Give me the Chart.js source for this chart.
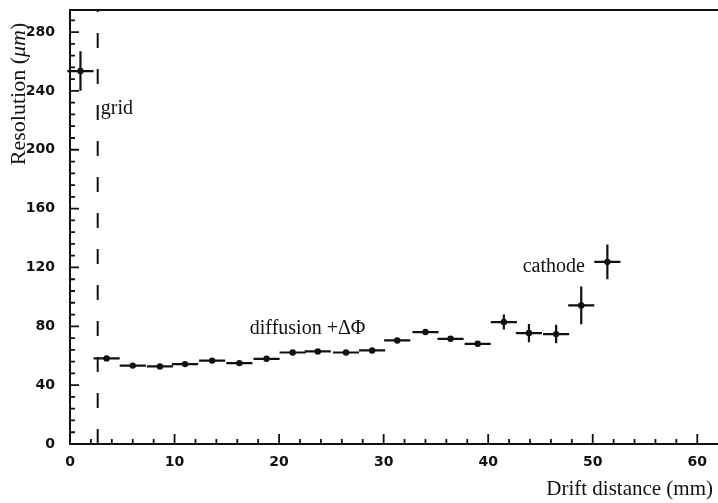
<!DOCTYPE html>
<html>
<head>
<meta charset="utf-8">
<script src="https://cdn.jsdelivr.net/npm/chart.js@4/dist/chart.umd.min.js"></script>
<style>
  html, body { margin: 0; padding: 0; background: #fff; }
  canvas { display: block; }
</style>
</head>
<body>
<canvas id="chart" width="718" height="503"></canvas>
<script>
// Drift distance bin centres (mm) and their half widths
const driftMm = [1.0, 3.5, 6.0, 8.6, 11.0, 13.6, 16.2, 18.8, 21.3, 23.7, 26.4,
                 28.9, 31.3, 34.0, 36.4, 39.0, 41.5, 43.9, 46.5, 48.9, 51.4];
const driftErr = [1.25, 1.25, 1.25, 1.25, 1.25, 1.25, 1.25, 1.25, 1.25, 1.25, 1.25,
                  1.25, 1.25, 1.25, 1.25, 1.25, 1.25, 1.25, 1.25, 1.25, 1.25];

// Spatial resolution (µm) with its uncertainty
const resolutionUm = [253.5, 58.2, 53.3, 52.7, 54.3, 56.7, 55.0, 57.9, 62.2, 62.9, 62.2,
                      63.6, 70.4, 76.1, 71.5, 68.1, 82.9, 75.4, 74.7, 94.2, 123.8];
const resolutionErr = [13.4, 1.5, 1.5, 1.5, 1.5, 1.5, 1.5, 1.5, 1.5, 1.5, 1.5,
                       1.5, 1.5, 1.5, 1.5, 1.5, 5.1, 6.2, 6.3, 12.8, 11.8];

// Axis labels
const xTickValues = [0, 10, 20, 30, 40, 50, 60];
const yTickValues = [0, 40, 80, 120, 160, 200, 240, 280];
const xMinorStep = 2;
const yMinorStep = 8;

// Position of the grid wire (mm)
const gridWireMm = 2.65;

// Annotations placed in data coordinates: [text, x (mm), y (µm)]
const notes = [
  ['grid', 2.95, 224],
  ['diffusion +\u0394\u03A6', 17.2, 75],
  ['cathode', 43.3, 117]
];

const INK = '#111';
const SERIF = '"Liberation Serif", "DejaVu Serif", serif';

const points = driftMm.map((x, i) => ({ x, y: resolutionUm[i] }));

const errorBars = {
  id: 'errorBars',
  afterDatasetsDraw(chart) {
    const { ctx, scales: { x, y } } = chart;
    ctx.save();
    ctx.strokeStyle = INK;
    ctx.lineWidth = 2.2;
    ctx.lineCap = 'butt';
    driftMm.forEach((d, i) => {
      const cy = y.getPixelForValue(resolutionUm[i]);
      const cx = x.getPixelForValue(d);
      ctx.beginPath();
      ctx.moveTo(x.getPixelForValue(d - driftErr[i]), cy);
      ctx.lineTo(x.getPixelForValue(d + driftErr[i]), cy);
      ctx.moveTo(cx, y.getPixelForValue(resolutionUm[i] - resolutionErr[i]));
      ctx.lineTo(cx, y.getPixelForValue(resolutionUm[i] + resolutionErr[i]));
      ctx.stroke();
    });
    ctx.restore();
  }
};

const frame = {
  id: 'frame',
  beforeDatasetsDraw(chart) {
    const { ctx, chartArea: a, scales: { x, y } } = chart;
    ctx.save();
    ctx.strokeStyle = INK;
    // top edge of the frame and the axis line, both running off the right edge
    ctx.lineWidth = 2;
    ctx.beginPath();
    ctx.moveTo(a.left, a.top);
    ctx.lineTo(chart.width, a.top);
    ctx.moveTo(a.right - 1, a.bottom);
    ctx.lineTo(chart.width, a.bottom);
    ctx.stroke();

    // inward tick marks
    ctx.lineWidth = 1.8;
    ctx.beginPath();
    for (let k = 0; k * xMinorStep <= x.max; k++) {
      const v = k * xMinorStep;
      const px = x.getPixelForValue(v);
      const len = xTickValues.includes(v) ? 10 : 5;
      ctx.moveTo(px, a.bottom);
      ctx.lineTo(px, a.bottom - len);
    }
    for (let k = 0; k * yMinorStep <= y.max; k++) {
      const v = k * yMinorStep;
      const py = y.getPixelForValue(v);
      const len = yTickValues.includes(v) ? 9 : 5;
      ctx.moveTo(a.left, py);
      ctx.lineTo(a.left + len, py);
    }
    ctx.stroke();

    // dashed line at the grid wire
    const gx = x.getPixelForValue(gridWireMm);
    ctx.lineWidth = 2;
    ctx.setLineDash([15, 21]);
    ctx.beginPath();
    ctx.moveTo(gx, a.bottom);
    ctx.lineTo(gx, a.top);
    ctx.stroke();
    ctx.restore();
  },
  afterDraw(chart) {
    const { ctx, scales: { x, y } } = chart;
    ctx.save();
    ctx.fillStyle = INK;
    ctx.textBaseline = 'alphabetic';

    // annotations
    ctx.font = '20px ' + SERIF;
    ctx.textAlign = 'left';
    notes.forEach(([t, vx, vy]) => {
      ctx.fillText(t, x.getPixelForValue(vx), y.getPixelForValue(vy));
    });

    // x axis title
    ctx.font = '21px ' + SERIF;
    ctx.textAlign = 'right';
    ctx.fillText('Drift distance (mm)', 713, 495);

    // y axis title, rotated, with italic unit
    const parts = [
      ['Resolution (', '22px ' + SERIF],
      ['\u03BCm', 'italic 22px ' + SERIF],
      [')', '22px ' + SERIF]
    ];
    let total = 0;
    parts.forEach(([t, f]) => { ctx.font = f; total += ctx.measureText(t).width; });
    ctx.translate(25, 94);
    ctx.rotate(-Math.PI / 2);
    ctx.textAlign = 'left';
    let pos = -total / 2;
    parts.forEach(([t, f]) => {
      ctx.font = f;
      ctx.fillText(t, pos, 0);
      pos += ctx.measureText(t).width;
    });
    ctx.restore();
  }
};

// The plot frame fills the canvas edge to edge, so drop the label overhang padding
const fixPadding = (s) => {
  s.paddingTop = 0;
  s.paddingBottom = 0;
  s.paddingLeft = 0;
  s.paddingRight = 0;
};

const tickFont = { family: '"DejaVu Sans", sans-serif', weight: 'bold', size: 14 };

new Chart(document.getElementById('chart'), {
  type: 'scatter',
  data: {
    datasets: [{
      data: points,
      pointRadius: 3.2,
      pointBackgroundColor: INK,
      pointBorderColor: INK,
      pointBorderWidth: 0,
      showLine: false
    }]
  },
  options: {
    responsive: false,
    animation: false,
    layout: { padding: { top: 10, left: 0, right: 0, bottom: 0 } },
    plugins: { legend: { display: false }, tooltip: { enabled: false } },
    scales: {
      x: {
        type: 'linear',
        min: 0,
        max: 61.6,
        afterBuildTicks: s => { s.ticks = xTickValues.map(v => ({ value: v })); },
        afterFit: s => { s.height = 59; fixPadding(s); },
        grid: { display: false, drawTicks: false },
        border: { display: true, color: INK, width: 2 },
        ticks: { font: tickFont, color: INK, padding: 10, maxRotation: 0, autoSkip: false }
      },
      y: {
        type: 'linear',
        min: 0,
        max: 295,
        afterBuildTicks: s => { s.ticks = yTickValues.map(v => ({ value: v })); },
        afterFit: s => { s.width = 70; fixPadding(s); },
        grid: { display: false, drawTicks: false },
        border: { display: true, color: INK, width: 2 },
        ticks: { font: tickFont, color: INK, padding: 15, autoSkip: false }
      }
    }
  },
  plugins: [frame, errorBars]
});
</script>
</body>
</html>
